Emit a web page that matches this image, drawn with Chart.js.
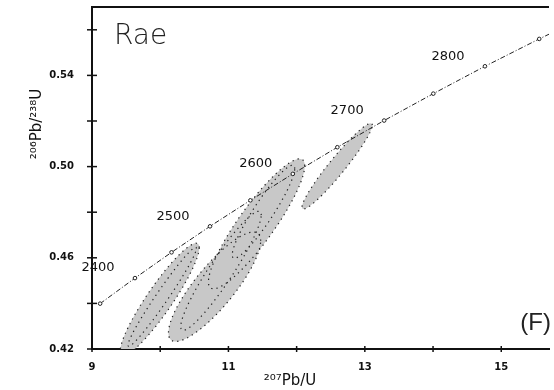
<!DOCTYPE html>
<html><head><meta charset="utf-8">
<script src="https://cdn.jsdelivr.net/npm/chart.js@4"></script>
<style>html,body{margin:0;padding:0;background:#fff;overflow:hidden}#wrap{width:554px;height:390px;position:relative}</style>
</head><body><div id="wrap"><canvas id="c" width="554" height="390"></canvas></div>
<script>
// Concordia curve points (age in Ma, 207Pb/235U, 206Pb/238U)
const concAges = [2350, 2400, 2450, 2500, 2550, 2600, 2650, 2700, 2750, 2800, 2850, 2900];
const concX    = [9.119, 9.630, 10.166, 10.730, 11.322, 11.944, 12.597, 13.283, 14.004, 14.761, 15.557, 16.393];
const concY    = [0.4399, 0.4511, 0.4624, 0.4738, 0.4852, 0.4968, 0.5085, 0.5202, 0.5320, 0.5440, 0.5560, 0.5681];
const labelAges = [2400, 2500, 2600, 2700, 2800];

// Error ellipses: centre, sigma and correlation
const ellX   = [9.993, 10.029, 10.797, 10.891, 11.413, 11.514, 12.594];
const ellSX  = [0.579, 0.501, 0.676, 0.590, 0.706, 0.458, 0.515];
const ellY   = [0.4418, 0.4429, 0.4473, 0.4543, 0.4749, 0.4802, 0.5002];
const ellSY  = [0.0246, 0.0217, 0.0240, 0.0261, 0.0285, 0.0204, 0.0188];
const ellRho = [0.920, 0.977, 0.841, 0.936, 0.893, 0.927, 0.956];

// Axis ticks
const xTickValues = [9, 10, 11, 12, 13, 14, 15];
const xTickLabels = ['9', '', '11', '', '13', '', '15'];
const yTickValues = [0.42, 0.44, 0.46, 0.48, 0.50, 0.52, 0.54, 0.56];
const yTickLabels = ['0.42', '', '0.46', '', '0.50', '', '0.54', ''];

const xTitle = '²⁰⁷Pb/U';
const yTitle = '²⁰⁶Pb/²³⁸U';
const panelName = 'Rae';
const panelTag = '(F)';

const ellipsePlugin = {
  id: 'ellipses',
  beforeDatasetsDraw(chart) {
    const {ctx, chartArea: a, scales: {x, y}} = chart;
    ctx.save();
    ctx.beginPath();
    ctx.rect(a.left, a.top, a.right - a.left, a.bottom - a.top);
    ctx.clip();
    const paths = ellX.map((cx, i) => {
      const p = new Path2D();
      const n = 120;
      const r = ellRho[i], q = Math.sqrt(1 - r * r);
      for (let k = 0; k <= n; k++) {
        const t = 2 * Math.PI * k / n;
        const dx = ellSX[i] * Math.cos(t);
        const dy = ellSY[i] * (r * Math.cos(t) + q * Math.sin(t));
        const px = x.getPixelForValue(cx + dx), py = y.getPixelForValue(ellY[i] + dy);
        if (k) p.lineTo(px, py); else p.moveTo(px, py);
      }
      p.closePath();
      return p;
    });
    ctx.fillStyle = '#c8c8c8';
    paths.forEach(p => ctx.fill(p));
    ctx.strokeStyle = '#222';
    ctx.lineWidth = 1.2;
    ctx.setLineDash([1.3, 4]);
    paths.forEach(p => ctx.stroke(p));
    ctx.restore();
  },
  afterDraw(chart) {
    const {ctx, chartArea: a, scales: {x, y}} = chart;
    ctx.save();
    ctx.strokeStyle = '#111';
    ctx.lineWidth = 2;
    // top frame
    ctx.beginPath(); ctx.moveTo(a.left - 1, a.top); ctx.lineTo(a.right, a.top); ctx.stroke();
    // crossing tick marks
    ctx.lineWidth = 1.5;
    yTickValues.forEach(v => {
      const py = y.getPixelForValue(v);
      ctx.beginPath(); ctx.moveTo(a.left - 5, py); ctx.lineTo(a.left + 5, py); ctx.stroke();
    });
    xTickValues.forEach(v => {
      const px = x.getPixelForValue(v);
      ctx.beginPath(); ctx.moveTo(px, a.bottom - 3); ctx.lineTo(px, a.bottom + 3); ctx.stroke();
    });
    // age labels
    ctx.fillStyle = '#111';
    ctx.font = '13px "DejaVu Sans"';
    ctx.textAlign = 'center';
    ctx.textBaseline = 'middle';
    labelAges.forEach(age => {
      const i = concAges.indexOf(age);
      const px = x.getPixelForValue(concX[i]), py = y.getPixelForValue(concY[i]);
      ctx.fillText(String(age), px - 37, py - 10);
    });
    // panel name
    ctx.fillStyle = '#222';
    ctx.textAlign = 'left';
    ctx.textBaseline = 'alphabetic';
    ctx.font = '300 28px "DejaVu Sans"';
    ctx.fillText(panelName, a.left + 22, a.top + 37);
    ctx.font = '24px "Liberation Sans"';
    ctx.textAlign = 'right';
    ctx.fillText(panelTag, 551, a.bottom - 19);
    // axis titles
    ctx.fillStyle = '#111';
    ctx.font = '15px "DejaVu Sans"';
    ctx.textAlign = 'center';
    ctx.textBaseline = 'middle';
    ctx.fillText(xTitle, 290, 381);
    ctx.translate(37, 124);
    ctx.rotate(-Math.PI / 2);
    ctx.fillText(yTitle, 0, 0);
    ctx.restore();
  }
};

const tickFont = {family: '"DejaVu Sans"', size: 10, weight: 'bold'};

new Chart(document.getElementById('c'), {
  type: 'scatter',
  data: {
    datasets: [{
      data: concX.map((v, i) => ({x: v, y: concY[i]})),
      showLine: true,
      borderColor: '#222',
      borderWidth: 1,
      borderDash: [5, 2, 1, 2],
      pointRadius: 1.8,
      pointBackgroundColor: '#fff',
      pointBorderColor: '#222',
      pointBorderWidth: 1
    }]
  },
  options: {
    responsive: false,
    devicePixelRatio: 1,
    animation: false,
    layout: {padding: {top: 7, right: 0, left: 0, bottom: 0}},
    plugins: {legend: {display: false}, tooltip: {enabled: false}},
    scales: {
      x: {
        type: 'linear', min: 9, max: 15.7,
        afterBuildTicks: s => { s.ticks = xTickValues.map(v => ({value: v})); },
        afterFit: s => { s.height = 41; s.paddingLeft = 0; s.paddingRight = 0; },
        grid: {display: false, drawTicks: false},
        border: {display: true, color: '#111', width: 2},
        ticks: {
          font: tickFont, color: '#111', padding: 12, maxRotation: 0, autoSkip: false,
          callback: (v, i) => xTickLabels[i]
        }
      },
      y: {
        type: 'linear', min: 0.42, max: 0.57,
        afterBuildTicks: s => { s.ticks = yTickValues.map(v => ({value: v})); },
        afterFit: s => { s.width = 92; s.paddingTop = 0; s.paddingBottom = 0; },
        grid: {display: false, drawTicks: false},
        border: {display: true, color: '#111', width: 2},
        ticks: {
          font: tickFont, color: '#111', padding: 18, autoSkip: false,
          callback: (v, i) => yTickLabels[i]
        }
      }
    }
  },
  plugins: [ellipsePlugin]
});
</script></body></html>
